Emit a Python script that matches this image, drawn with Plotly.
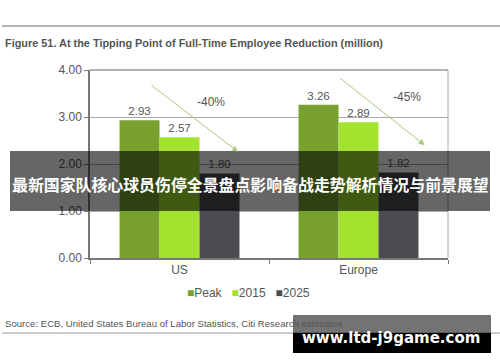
import plotly.graph_objects as go

# ---- data ----
regions = ["US", "Europe"]
series_names = ["Peak", "2015", "2025"]
peak_vals = [2.93, 3.26]
y2015_vals = [2.57, 2.89]
y2025_vals = [1.80, 1.82]
change_labels = ["-40%", "-45%"]
y_ticks = [0, 1, 2, 3, 4]
y_tick_labels = ["0.00", "1.00", "2.00", "3.00", "4.00"]

title_text = "Figure 51. At the Tipping Point of Full-Time Employee Reduction (million)"
source_text = "Source: ECB, United States Bureau of Labor Statistics, Citi Research estimates"
banner_text = "最新国家队核心球员伤停全景盘点影响备战走势解析情况与前景展望"
watermark_text = "www.ltd-j9game.com"

colors = ["#77a02e", "#a3e22e", "#4a4c50"]

W, H = 500, 362
L, R, T, B = 90, 52, 70, 104
PW, PH = W - L - R, H - T - B

def px(x):
    return (x - L) / PW

def py(y):
    return (H - B - y) / PH

fig = go.Figure()
for name, vals, col in zip(series_names, [peak_vals, y2015_vals, y2025_vals], colors):
    fig.add_trace(go.Bar(
        x=regions, y=vals, name=name, marker=dict(color=col, line=dict(width=0)),
        text=[f"{v:.2f}" for v in vals], textposition="outside",
        textfont=dict(size=11.5, color="#555555", family="Liberation Sans, Arial"),
        cliponaxis=False, showlegend=False,
    ))

annotations = []
arrow_specs = [(-0.165, 3.70, 0.327, 2.26), (-0.11, 3.85, 0.37, 2.40)]
label_specs = [(0.176, 3.32), (0.27, 3.43)]
for i, (x0, y0, x1, y1) in enumerate(arrow_specs):
    annotations.append(dict(
        x=i + x1, y=y1, ax=i + x0, ay=y0, xref="x", yref="y", axref="x", ayref="y",
        showarrow=True, arrowhead=2, arrowsize=1.2, arrowwidth=1, arrowcolor="#a9c77f", text="",
    ))
    lx, ly = label_specs[i]
    annotations.append(dict(
        x=i + lx, y=ly, xref="x", yref="y", text=change_labels[i], showarrow=False,
        font=dict(size=12, color="#555555", family="Liberation Sans, Arial"),
    ))

legend_html = "&nbsp;&nbsp;&nbsp;".join(
    f"<span style='color:{c}'>■</span>{n}" for n, c in zip(series_names, colors)
)

annotations += [
    dict(x=px(3), y=py(43), xref="paper", yref="paper", xanchor="left", yanchor="middle",
         text="<b>" + title_text + "</b>", showarrow=False,
         font=dict(size=10.9, color="#555555", family="Liberation Sans, Arial")),
    dict(x=px(3), y=py(323), xref="paper", yref="paper", xanchor="left", yanchor="middle",
         text=source_text, showarrow=False,
         font=dict(size=9.6, color="#555555", family="Liberation Sans, Arial")),
    dict(x=px(248), y=py(293), xref="paper", yref="paper", xanchor="center", yanchor="middle",
         text=legend_html, showarrow=False,
         font=dict(size=12, color="#555555", family="Liberation Sans, Arial")),
    dict(x=px(250), y=py(184), xref="paper", yref="paper", xanchor="center", yanchor="middle",
         text="<b>" + banner_text + "</b>", showarrow=False,
         font=dict(size=15.9, color="#ffffff", family="Noto Sans CJK SC")),
    dict(x=px(391), y=py(338), xref="paper", yref="paper", xanchor="center", yanchor="middle",
         text="<b>" + watermark_text + "</b>", showarrow=False,
         font=dict(size=15, color="#ffffff", family="DejaVu Sans")),
]

shapes = [
    dict(type="line", xref="paper", yref="paper", x0=px(2), x1=px(500), y0=py(26), y1=py(26),
         line=dict(color="#9a9a9a", width=1.5)),
    dict(type="line", xref="paper", yref="paper", x0=px(2), x1=px(500), y0=py(333), y1=py(333),
         line=dict(color="#9a9a9a", width=1)),
    dict(type="line", xref="paper", yref="paper", x0=1, x1=1, y0=0, y1=1,
         line=dict(color="#aaaaaa", width=1)),
    dict(type="line", xref="paper", yref="paper", x0=0, x1=1, y0=1, y1=1,
         line=dict(color="#999999", width=1.5)),
    dict(type="rect", xref="paper", yref="paper", x0=px(10), x1=px(490), y0=py(151), y1=py(211),
         fillcolor="rgba(0,0,0,0.6)", line=dict(width=0), layer="above"),
    dict(type="rect", xref="paper", yref="paper", x0=px(293), x1=px(491), y0=py(315), y1=py(333),
         fillcolor="rgba(0,0,0,0.55)", line=dict(width=0), layer="above"),
    dict(type="rect", xref="paper", yref="paper", x0=px(293), x1=px(491), y0=py(333), y1=py(353),
         fillcolor="#000000", line=dict(width=0), layer="above"),
]

fig.update_layout(
    width=W, height=H, margin=dict(l=L, r=R, t=T, b=B, autoexpand=False),
    paper_bgcolor="white", plot_bgcolor="white",
    barmode="group", bargap=0.33, bargroupgap=0,
    font=dict(family="Liberation Sans, Arial", color="#555555", size=12),
    showlegend=False,
    annotations=annotations, shapes=shapes,
    xaxis=dict(type="category", showline=True, linecolor="#777777", linewidth=1.5,
               ticks="outside", tickson="boundaries", ticklen=4, tickcolor="#777777",
               showgrid=False, tickfont=dict(size=12, color="#555555"), automargin=False),
    yaxis=dict(range=[0, 4], tickvals=y_ticks, ticktext=y_tick_labels, showline=True,
               linecolor="#777777", linewidth=1.5, ticks="outside", ticklen=4, tickcolor="#777777",
               showgrid=True, gridcolor="#aaaaaa", gridwidth=1, zeroline=False,
               tickfont=dict(size=12, color="#555555"), automargin=False),
)

fig.write_html(
    "out.html",
    config={"displayModeBar": False},
    post_script="document.body.style.margin='0';document.body.style.overflow='hidden';",
)
